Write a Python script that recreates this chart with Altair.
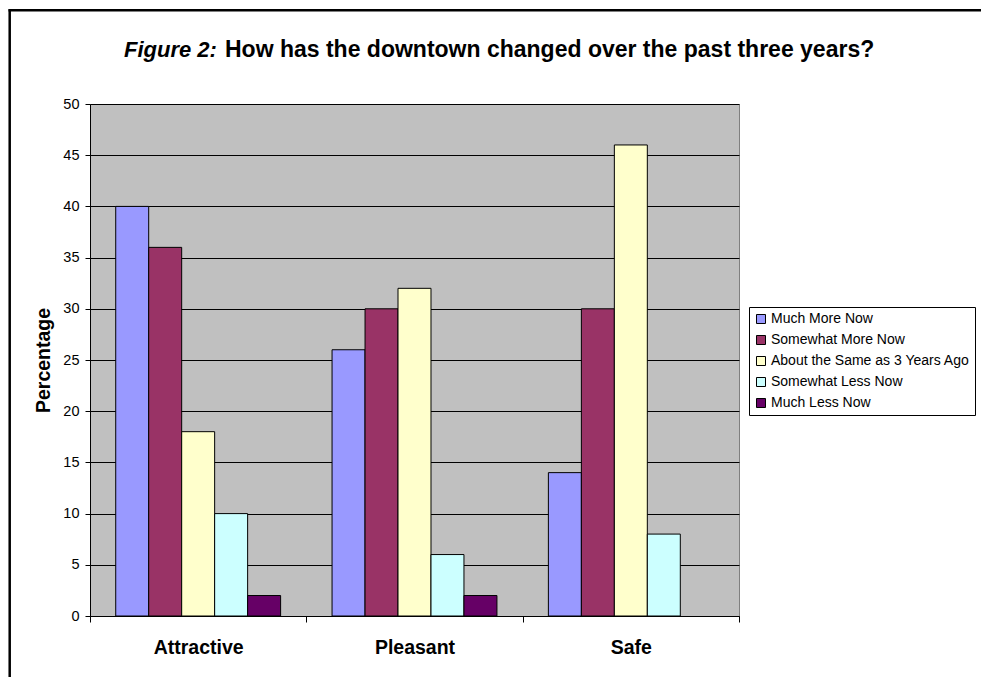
import altair as alt
import pandas as pd

# Survey results: share of respondents (%) per aspect of the downtown
categories = ["Attractive", "Pleasant", "Safe"]
responses = [
    "Much More Now",
    "Somewhat More Now",
    "About the Same as 3 Years Ago",
    "Somewhat Less Now",
    "Much Less Now",
]
much_more = [40, 26, 14]
somewhat_more = [36, 30, 30]
about_same = [18, 32, 46]
somewhat_less = [10, 6, 8]
much_less = [2, 2, 0]

colors = ["#9999FF", "#993366", "#FFFFCC", "#CCFFFF", "#660066"]
y_ticks = [0, 5, 10, 15, 20, 25, 30, 35, 40, 45, 50]

title_lead = "Figure 2:"
title_text = "How has the downtown changed over the past three years?"
y_title = "Percentage"

series = [much_more, somewhat_more, about_same, somewhat_less, much_less]
rows = []
for resp, vals in zip(responses, series):
    for cat, v in zip(categories, vals):
        rows.append({"Aspect": cat, "Response": resp, "Percentage": v})
df = pd.DataFrame(rows)

FONT = "Liberation Sans"
W, H = 649, 512

bars = (
    alt.Chart(df)
    .transform_filter("datum.Percentage > 0")
    .mark_bar(stroke="black", strokeWidth=1, opacity=1)
    .encode(
        x=alt.X(
            "Aspect:N",
            sort=categories,
            scale=alt.Scale(paddingInner=0, paddingOuter=0),
            axis=alt.Axis(
                title=None,
                tickBand="extent",
                labelAngle=0,
                labelFont=FONT,
                labelFontSize=19.5,
                labelFontWeight="bold",
                labelColor="black",
                labelPadding=16,
                tickSize=6,
                tickColor="black",
                domainColor="black",
                grid=False,
            ),
        ),
        xOffset=alt.XOffset(
            "Response:N",
            sort=responses,
            scale=alt.Scale(paddingInner=0, paddingOuter=0.78),
        ),
        y=alt.Y(
            "Percentage:Q",
            scale=alt.Scale(domain=[0, 50], nice=False),
            axis=alt.Axis(
                values=y_ticks,
                title=y_title,
                titleFont=FONT,
                titleFontSize=19.5,
                titleFontWeight="bold",
                titleColor="black",
                titleAngle=270,
                titleX=-47,
                titleY=H / 2,
                titleAlign="center",
                titleBaseline="middle",
                labelFont=FONT,
                labelFontSize=14.5,
                labelColor="black",
                labelPadding=6,
                tickSize=5,
                tickColor="black",
                domainColor="black",
                grid=True,
                gridColor="black",
                gridOpacity=1,
                gridWidth=1,
            ),
        ),
        color=alt.Color(
            "Response:N",
            scale=alt.Scale(domain=responses, range=colors),
            legend=alt.Legend(
                title=None,
                orient="none",
                legendX=659,
                legendY=203,
                direction="vertical",
                symbolType="square",
                symbolSize=81,
                symbolStrokeColor="black",
                symbolStrokeWidth=1,
                symbolOpacity=1,
                labelFont=FONT,
                labelFontSize=14,
                labelColor="black",
                labelOffset=3,
                labelLimit=400,
                rowPadding=7,
                padding=5,
                strokeColor="black",
                fillColor="white",
            ),
        ),
    )
)

one = pd.DataFrame({"k": [0]})

title_a = (
    alt.Chart(pd.DataFrame({"t": [title_lead]}))
    .mark_text(font=FONT, fontSize=22, fontWeight="bold", fontStyle="italic",
               align="left", baseline="alphabetic", color="black")
    .encode(x=alt.value(34), y=alt.value(-47.5), text="t:N")
)
title_b = (
    alt.Chart(pd.DataFrame({"t": [title_text]}))
    .mark_text(font=FONT, fontSize=23, fontWeight="bold",
               align="left", baseline="alphabetic", color="black")
    .encode(x=alt.value(135), y=alt.value(-47.5), text="t:N")
)

# outer frame around the whole figure
frame_left = (
    alt.Chart(one)
    .mark_rule(color="black", strokeWidth=2.5)
    .encode(x=alt.value(-80.3), y=alt.value(-94.8), y2=alt.value(H + 120))
)
frame_top = (
    alt.Chart(one)
    .mark_rule(color="black", strokeWidth=2.5)
    .encode(x=alt.value(-81.5), x2=alt.value(W + 300), y=alt.value(-93.7))
)

chart = (
    alt.layer(bars, title_a, title_b, frame_left, frame_top)
    .properties(
        width=W,
        height=H,
        autosize=alt.AutoSizeParams(type="none"),
        padding={"left": 90, "top": 104, "right": 242, "bottom": 61},
        background="white",
    )
    .configure_view(fill="#C0C0C0", stroke="#808080", strokeWidth=1)
)

chart.save("out.html", embed_options={"renderer": "svg", "actions": False})
